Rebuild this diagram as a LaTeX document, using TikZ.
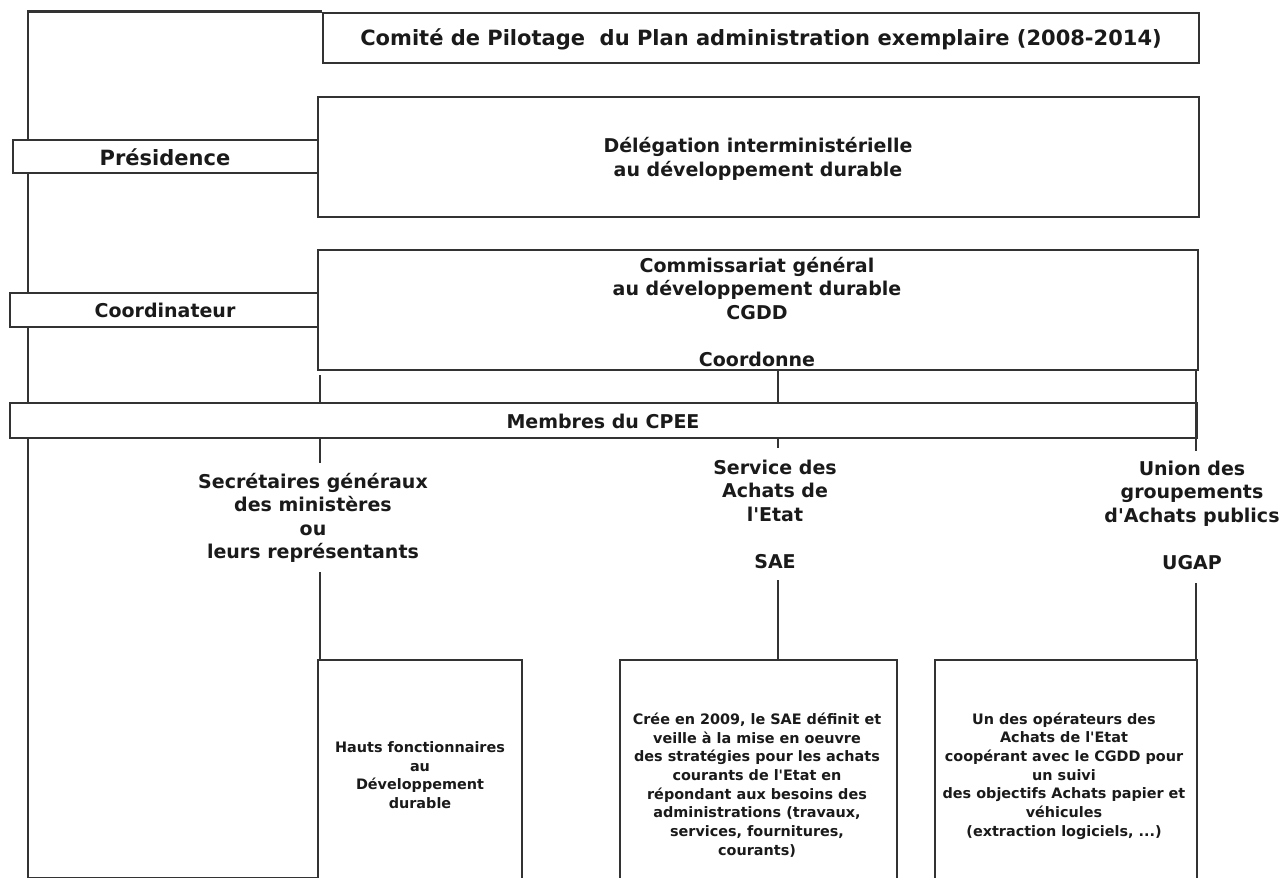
\documentclass[tikz,border=0pt]{standalone}
\usepackage{fontspec}
\setmainfont{DejaVu Sans}
\usetikzlibrary{fit}
\definecolor{linegray}{HTML}{333333}
\definecolor{textblack}{HTML}{1A1A1A}
\newcommand{\ap}{\textquotesingle}
\begin{document}
\begin{tikzpicture}[x=0.5pt,y=-0.5pt,
  conn/.style={draw=linegray, line width=1.45pt},
  box/.style={draw=linegray, fill=white, line width=1.45pt, inner sep=0pt},
  bigtxt/.style={align=center, inner sep=0pt, text=textblack, font=\fontsize{10.5}{13}\selectfont\bfseries},
  lbl/.style={align=center, inner sep=0pt, text=textblack, font=\fontsize{9.5}{11.75}\selectfont\bfseries},
  small/.style={align=center, inner sep=0pt, text=textblack, font=\fontsize{7.2}{9.35}\selectfont\bfseries}]
\useasboundingbox[fill=white] (0,0) rectangle (1286,878);

% frame line
\coordinate (frameB) at (28,878);
% boxes
\node[box, fit={(323,13)(1199,63)}] (title) {};
\draw[conn] (frameB) |- (title.north west);
\node[bigtxt] (titletext) at (761,39) {Comité de Pilotage\ \ du Plan administration exemplaire (2008-2014)};

\node[box, fit={(318,97)(1199,217)}] (deleg) {};
\node[lbl] (delegtext) at (758,159) {Délégation interministérielle\\au développement durable};
\node[box, fit={(13,140)(318,173)}] (pres) {};
\node[bigtxt] (prestext) at (165,157) {Présidence};
\node[box, fit={(318,250)(1198,370)}] (cgdd) {};
\node[lbl] (cgddtext) at (757,312) {Commissariat général\\au développement durable\\CGDD\\\mbox{}\\Coordonne};
\node[box, fit={(10,293)(318,327)}] (coord) {};
\node[lbl] (coordtext) at (165,310) {Coordinateur};
\node[box, fit={(10,403)(1197,438)}] (membres) {};
\node[lbl] (membrestext) at (603,421) {Membres du CPEE};

\node[box, fit={(318,660)(522,890)}] (hauts) {};
\node[box, fit={(620,660)(897,890)}] (sae) {};
\node[box, fit={(935,660)(1197,890)}] (ugap) {};
\draw[conn] (frameB) -- (frameB -| hauts.west);

% labels
\node[lbl] (sglab) at (313,518) {Secrétaires généraux\\des ministères\\ou\\leurs représentants};
\node[lbl] (saelab) at (775,514) {Service des\\Achats de\\l\ap Etat\\\mbox{}\\SAE};
\node[lbl] (ugaplab) at (1192,515) {Union des\\groupements\\d\ap Achats publics\\\mbox{}\\UGAP};

% texts in bottom boxes
\node[small] (hautstext) at (420,775) {Hauts fonctionnaires\\au\\Développement\\durable};
\node[small] (saetext) at (757,785) {Crée en 2009, le SAE définit et\\veille à la mise en oeuvre\\des stratégies pour les achats\\courants de l\ap Etat en\\répondant aux besoins des\\administrations (travaux,\\services, fournitures,\\courants)};
\node[small] (ugaptext) at (1064,776) {Un des opérateurs des\\Achats de l\ap Etat\\coopérant avec le CGDD pour\\un suivi\\des objectifs Achats papier et\\véhicules\\(extraction logiciels, ...)};

% connectors
\coordinate (sgA) at (320,375);
\coordinate (sgB) at (320,463);
\coordinate (sgC) at (320,572);
\coordinate (saA) at (778,448);
\coordinate (saB) at (778,580);
\coordinate (ugA) at (1196,451);
\coordinate (ugB) at (1196,583);

\draw[conn] (sgA) -- (sgA |- membres.north);
\draw[conn] (sgB |- membres.south) -- (sgB);
\draw[conn] (sgC) -- (sgC |- hauts.north);

\draw[conn] (saA |- cgdd.south) -- (saA |- membres.north);
\draw[conn] (saA |- membres.south) -- (saA);
\draw[conn] (saB) -- (saB |- sae.north);

\draw[conn] (ugA |- cgdd.south) -- (ugA);
\draw[conn] (ugB) -- (ugB |- ugap.north);
\end{tikzpicture}
\end{document}
